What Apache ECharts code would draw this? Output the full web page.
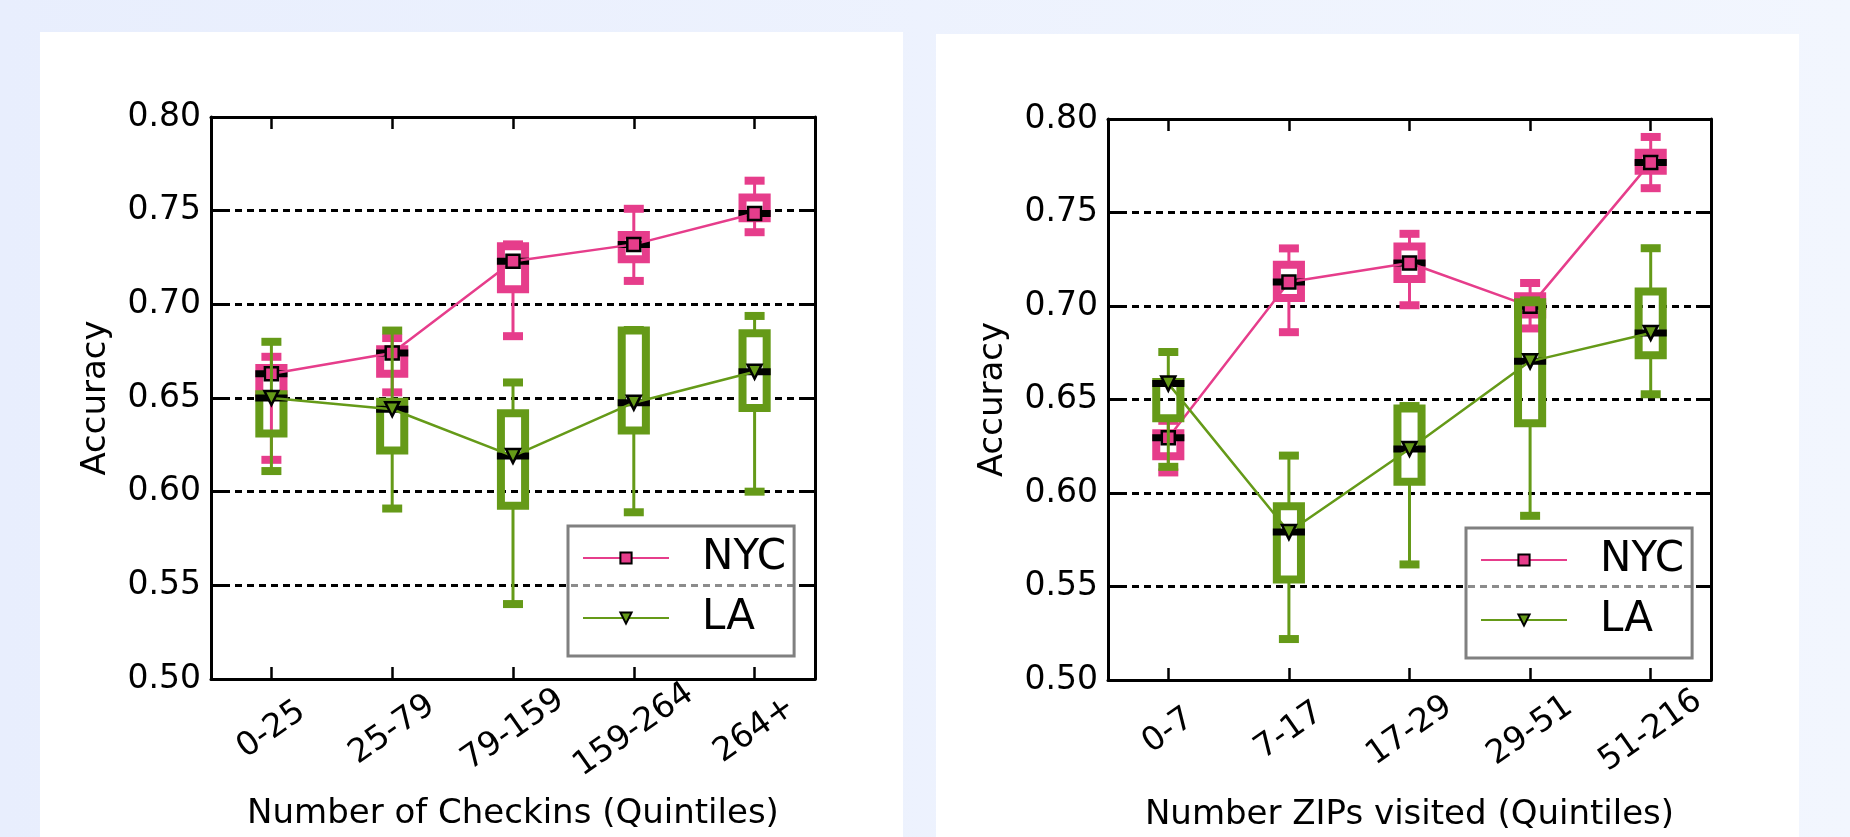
<!DOCTYPE html>
<html>
<head>
<meta charset="utf-8">
<script src="https://cdn.jsdelivr.net/npm/echarts@6/dist/echarts.min.js"></script>
<style>
html,body{margin:0;padding:0;width:1850px;height:837px;overflow:hidden;}
#chart{width:1850px;height:837px;}
</style>
</head>
<body>
<div id="chart"></div>
<script>
// ---------- data ----------
const checkinCats = ['0-25', '25-79', '79-159', '159-264', '264+'];
const zipCats = ['0-7', '7-17', '17-29', '29-51', '51-216'];
const yTicks = [0.50, 0.55, 0.60, 0.65, 0.70, 0.75, 0.80];

// Left panel: Number of Checkins
const nycCheckMin = [0.617, 0.653, 0.683, 0.7125, 0.7385];
const nycCheckQ1  = [0.652, 0.663, 0.708, 0.724, 0.746];
const nycCheckMed = [0.663, 0.674, 0.723, 0.732, 0.7485];
const nycCheckQ3  = [0.666, 0.676, 0.731, 0.737, 0.757];
const nycCheckMax = [0.672, 0.682, 0.732, 0.751, 0.766];

const laCheckMin = [0.611, 0.591, 0.540, 0.589, 0.600];
const laCheckQ1  = [0.631, 0.622, 0.5925, 0.6326, 0.6447];
const laCheckMed = [0.650, 0.644, 0.619, 0.6475, 0.664];
const laCheckQ3  = [0.652, 0.648, 0.6418, 0.686, 0.6845];
const laCheckMax = [0.680, 0.686, 0.6583, 0.6863, 0.6938];

// Right panel: Number ZIPs visited
const nycZipMin = [0.611, 0.686, 0.7004, 0.688, 0.763];
const nycZipQ1  = [0.6197, 0.7043, 0.7144, 0.6954, 0.7723];
const nycZipMed = [0.6295, 0.7128, 0.723, 0.6998, 0.7768];
const nycZipQ3  = [0.632, 0.722, 0.7318, 0.7052, 0.7819];
const nycZipMax = [0.6386, 0.7308, 0.7386, 0.7123, 0.7904];

const laZipMin = [0.614, 0.5219, 0.5618, 0.5878, 0.6528];
const laZipQ1  = [0.640, 0.5538, 0.606, 0.6373, 0.6736];
const laZipMed = [0.6585, 0.5791, 0.6235, 0.6704, 0.6856];
const laZipQ3  = [0.6593, 0.5929, 0.6452, 0.702, 0.7078];
const laZipMax = [0.6754, 0.620, 0.6465, 0.703, 0.7309];

// ---------- styling ----------
const PINK = '#e63d8b';
const GREEN = '#659a18';
const FONT = 'DejaVu Sans';

function boxData(mn, q1, md, q3, mx) {
  return mn.map((v, i) => [i, mn[i], q1[i], md[i], q3[i], mx[i]]);
}

function makeRender(color) {
  return function (params, api) {
    const x = api.value(0);
    const pMin = api.coord([x, api.value(1)]);
    const pQ1 = api.coord([x, api.value(2)]);
    const pMed = api.coord([x, api.value(3)]);
    const pQ3 = api.coord([x, api.value(4)]);
    const pMax = api.coord([x, api.value(5)]);
    const band = api.size([1, 0])[0];
    const boxW = band * 0.2;
    const cx = pMed[0];
    const capW = 20, capH = 8, bw = 8;
    return {
      type: 'group',
      children: [
        { type: 'line', shape: { x1: cx, y1: pMax[1], x2: cx, y2: pQ3[1] }, style: { stroke: color, lineWidth: 3 } },
        { type: 'line', shape: { x1: cx, y1: pQ1[1], x2: cx, y2: pMin[1] }, style: { stroke: color, lineWidth: 3 } },
        { type: 'rect', shape: { x: cx - capW / 2, y: pMax[1] - capH / 2, width: capW, height: capH }, style: { fill: color } },
        { type: 'rect', shape: { x: cx - capW / 2, y: pMin[1] - capH / 2, width: capW, height: capH }, style: { fill: color } },
        { type: 'rect', shape: { x: cx - boxW / 2, y: pQ3[1], width: boxW, height: pQ1[1] - pQ3[1] }, style: { fill: 'none', stroke: color, lineWidth: bw } },
        { type: 'rect', shape: { x: cx - boxW / 2 - bw / 2, y: pMed[1] - 3.5, width: boxW + bw, height: 7 }, style: { fill: '#000' } }
      ]
    };
  };
}

function xAxes(cats, gridIndex) {
  return [
    {
      type: 'category', data: cats, gridIndex: gridIndex, position: 'bottom',
      boundaryGap: true,
      axisLine: { show: true, lineStyle: { color: '#000', width: 3 } },
      axisTick: { show: true, inside: true, alignWithLabel: true, length: 12, lineStyle: { color: '#000', width: 2.5 } },
      axisLabel: { show: true, rotate: 35, align: 'center', verticalAlign: 'middle', margin: 51, fontSize: 33, fontFamily: FONT, color: '#000' },
      splitLine: { show: false },
      name: gridIndex === 0 ? 'Number of Checkins (Quintiles)' : 'Number ZIPs visited (Quintiles)',
      nameLocation: 'middle', nameGap: 118,
      nameTextStyle: { fontSize: 34, fontFamily: FONT, color: '#000' }
    },
    {
      type: 'category', data: cats, gridIndex: gridIndex, position: 'top',
      boundaryGap: true,
      axisLine: { show: true, lineStyle: { color: '#000', width: 3 } },
      axisTick: { show: true, inside: true, alignWithLabel: true, length: 12, lineStyle: { color: '#000', width: 2.5 } },
      axisLabel: { show: false },
      splitLine: { show: false }
    }
  ];
}

function yAxes(gridIndex) {
  return [
    {
      type: 'value', gridIndex: gridIndex, position: 'left',
      min: yTicks[0], max: yTicks[yTicks.length - 1], interval: 0.05,
      axisLine: { show: true, lineStyle: { color: '#000', width: 3 } },
      axisTick: { show: true, inside: true, length: 12, lineStyle: { color: '#000', width: 3 } },
      axisLabel: { show: true, margin: 10, fontSize: 33, fontFamily: FONT, color: '#000', formatter: v => v.toFixed(2) },
      splitLine: { show: true, lineStyle: { color: '#000', width: 3, type: [7, 5] } },
      name: 'Accuracy', nameLocation: 'middle', nameGap: 98,
      nameTextStyle: { fontSize: 34, fontFamily: FONT, color: '#000' }
    },
    {
      type: 'value', gridIndex: gridIndex, position: 'right',
      min: yTicks[0], max: yTicks[yTicks.length - 1], interval: 0.05,
      axisLine: { show: true, lineStyle: { color: '#000', width: 3 } },
      axisTick: { show: true, inside: true, length: 12, lineStyle: { color: '#000', width: 3 } },
      axisLabel: { show: false },
      splitLine: { show: false }
    }
  ];
}

function panelSeries(xi, yi, nycArr, laArr) {
  return [
    { type: 'custom', name: 'NYC box', xAxisIndex: xi, yAxisIndex: yi, renderItem: makeRender(PINK),
      encode: { x: 0, y: [1, 2, 3, 4, 5] }, data: boxData.apply(null, nycArr), silent: true, z: 2 },
    { type: 'line', name: 'NYC', xAxisIndex: xi, yAxisIndex: yi, data: nycArr[2],
      symbol: 'rect', symbolSize: 13, itemStyle: { color: PINK, borderColor: '#000', borderWidth: 2.5 },
      lineStyle: { color: PINK, width: 2.5 }, silent: true, z: 3 },
    { type: 'custom', name: 'LA box', xAxisIndex: xi, yAxisIndex: yi, renderItem: makeRender(GREEN),
      encode: { x: 0, y: [1, 2, 3, 4, 5] }, data: boxData.apply(null, laArr), silent: true, z: 4 },
    { type: 'line', name: 'LA', xAxisIndex: xi, yAxisIndex: yi, data: laArr[2],
      symbol: 'triangle', symbolRotate: 180, symbolSize: 14, itemStyle: { color: GREEN, borderColor: '#000', borderWidth: 2.5 },
      lineStyle: { color: GREEN, width: 2.5 }, silent: true, z: 5 }
  ];
}

function legendAt(left, top) {
  return {
    left: left, top: top, orient: 'vertical', data: ['NYC', 'LA'],
    itemWidth: 86, itemHeight: 14, itemGap: 14,
    padding: [9, 8, 15, 14],
    borderColor: '#808080', borderWidth: 3,
    backgroundColor: 'rgba(255,255,255,0.55)',
    selectedMode: false,
    textStyle: { fontSize: 42, fontFamily: FONT, color: '#000', lineHeight: 46, padding: [0, 0, 0, 28] }
  };
}

const chart = echarts.init(document.getElementById('chart'), null, { renderer: 'canvas' });
chart.setOption({
  animation: false,
  backgroundColor: {
    type: 'linear', x: 0, y: 0, x2: 1, y2: 0,
    colorStops: [{ offset: 0, color: '#e8eefd' }, { offset: 1, color: '#f2f6fe' }]
  },
  graphic: [
    { type: 'rect', left: 40, top: 32, shape: { width: 863, height: 805 }, style: { fill: '#fff' }, z: -10 },
    { type: 'rect', left: 936, top: 34, shape: { width: 863, height: 803 }, style: { fill: '#fff' }, z: -10 }
  ],
  grid: [
    { left: 211, top: 117, width: 604, height: 562, show: false },
    { left: 1108, top: 119, width: 603, height: 563, show: false }
  ],
  legend: [legendAt(568, 526), legendAt(1466, 528)],
  xAxis: xAxes(checkinCats, 0).concat(xAxes(zipCats, 1)),
  yAxis: yAxes(0).concat(yAxes(1)),
  series: panelSeries(0, 0,
      [nycCheckMin, nycCheckQ1, nycCheckMed, nycCheckQ3, nycCheckMax],
      [laCheckMin, laCheckQ1, laCheckMed, laCheckQ3, laCheckMax])
    .concat(panelSeries(2, 2,
      [nycZipMin, nycZipQ1, nycZipMed, nycZipQ3, nycZipMax],
      [laZipMin, laZipQ1, laZipMed, laZipQ3, laZipMax]))
});
</script>
</body>
</html>
